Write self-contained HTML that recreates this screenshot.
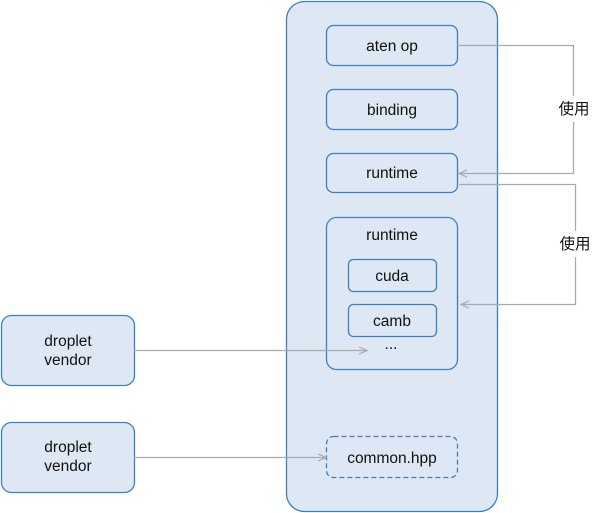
<!DOCTYPE html>
<html><head><meta charset="utf-8"><style>
html,body{margin:0;padding:0;background:#fff;width:602px;height:513px;overflow:hidden}
svg{display:block}
text{font-family:"Liberation Sans","Noto Sans CJK SC",sans-serif;font-size:15.5px;fill:#111;text-anchor:middle}
</style></head><body>
<svg width="602" height="513" viewBox="0 0 602 513">
<defs>
<marker id="a" markerWidth="10" markerHeight="8" refX="9" refY="4" orient="auto" markerUnits="userSpaceOnUse">
<path d="M1,0.5 L9,4 L1,7.5" fill="none" stroke="#aaa" stroke-width="1.2"/>
</marker>
</defs>
<g fill="#dde8f4" stroke="#3d7fc1" stroke-width="1.3">
<rect x="286.5" y="1.5" width="211" height="510" rx="18"/>
<rect x="326.5" y="25.5" width="131" height="40" rx="7"/>
<rect x="326.5" y="89.5" width="131" height="40" rx="7"/>
<rect x="326.5" y="153.5" width="131" height="39" rx="7"/>
<rect x="326.5" y="217.5" width="131" height="152" rx="10"/>
<rect x="348.5" y="259.5" width="88" height="32" rx="5"/>
<rect x="348.5" y="304.5" width="88" height="32" rx="5"/>
<rect x="326.5" y="436.5" width="131" height="41" rx="7" stroke-dasharray="5,3"/>
<rect x="1.5" y="315.5" width="133" height="70" rx="10"/>
<rect x="1.5" y="422.5" width="133" height="70" rx="10"/>
</g>
<g fill="none" stroke="#aaa" stroke-width="1.3">
<path d="M457,45.5 H573.5 V173.5 H459" marker-end="url(#a)"/>
<path d="M459,184.5 H575.5 V304.5 H461" marker-end="url(#a)"/>
<path d="M134,350.5 H367" marker-end="url(#a)"/>
<path d="M134,457.5 H326" marker-end="url(#a)"/>
</g>
<rect x="556" y="96" width="36" height="26" fill="#fff"/>
<rect x="556" y="231" width="36" height="26" fill="#fff"/>
<text x="574" y="114">使用</text>
<text x="575" y="249">使用</text>
<text x="392" y="51">aten op</text>
<text x="392" y="115">binding</text>
<text x="392" y="178">runtime</text>
<text x="392" y="240">runtime</text>
<text x="392" y="281">cuda</text>
<text x="392" y="326">camb</text>
<text x="391" y="349">...</text>
<text x="392" y="463">common.hpp</text>
<text x="68" y="346">droplet</text>
<text x="68" y="365">vendor</text>
<text x="68" y="452">droplet</text>
<text x="68" y="471">vendor</text>
</svg>
</body></html>
